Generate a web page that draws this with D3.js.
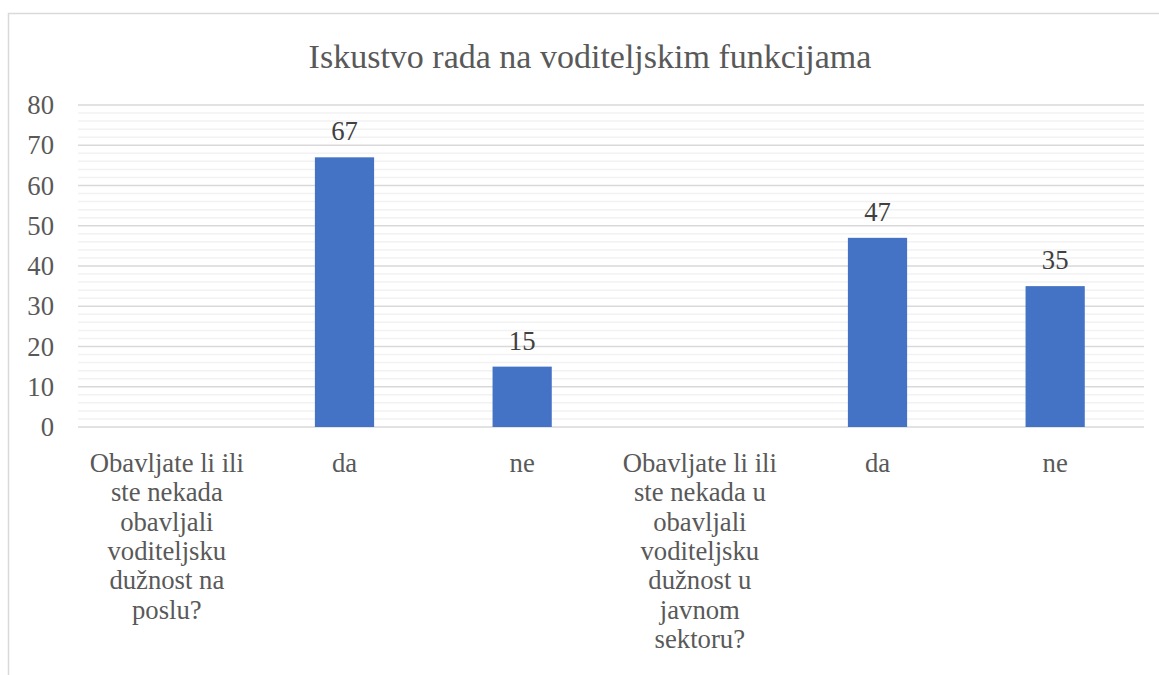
<!DOCTYPE html>
<html>
<head>
<meta charset="utf-8">
<script src="https://d3js.org/d3.v7.min.js"></script>
<style>
  body { margin: 0; }
  svg text, svg tspan { font-family: "Liberation Serif", "Times New Roman", Tinos, serif !important; }
</style>
</head>
<body>
<script>
// chart data
var categories = [
  ["Obavljate li ili", "ste nekada", "obavljali", "voditeljsku", "dužnost na", "poslu?"],
  ["da"],
  ["ne"],
  ["Obavljate li ili", "ste nekada u", "obavljali", "voditeljsku", "dužnost u", "javnom", "sektoru?"],
  ["da"],
  ["ne"]
];
var values = [null, 67, 15, null, 47, 35];
var yTicks = [0, 10, 20, 30, 40, 50, 60, 70, 80];
var title = "Iskustvo rada na voditeljskim funkcijama";

var width = 1159, height = 675;
var margin = {left: 78, right: 1159 - 1144, top: 105, bottom: 675 - 427};
var lineGap = 29.3;

var svg = d3.select("body").append("svg")
    .attr("width", width)
    .attr("height", height);

// outer chart frame (extends past the window on right/bottom)
svg.append("rect")
    .attr("x", 8.5).attr("y", 13.5)
    .attr("width", 1170).attr("height", 700)
    .attr("fill", "#fff")
    .attr("stroke", "#d9d9d9")
    .attr("stroke-width", 1.5);

var x = d3.scaleBand()
    .domain(d3.range(categories.length))
    .range([margin.left, width - margin.right]);

var y = d3.scaleLinear()
    .domain([0, 80])
    .range([height - margin.bottom, margin.top]);

// minor gridlines
svg.append("g")
  .selectAll("line")
  .data(d3.range(0, 81, 2).filter(function(d) { return d % 10 !== 0; }))
  .enter().append("line")
    .attr("x1", margin.left).attr("x2", width - margin.right)
    .attr("y1", function(d) { return y(d); })
    .attr("y2", function(d) { return y(d); })
    .attr("stroke", "#f2f2f2")
    .attr("stroke-width", 1.5);

// major gridlines
svg.append("g")
  .selectAll("line")
  .data(yTicks)
  .enter().append("line")
    .attr("x1", margin.left).attr("x2", width - margin.right)
    .attr("y1", function(d) { return y(d); })
    .attr("y2", function(d) { return y(d); })
    .attr("stroke", "#d9d9d9")
    .attr("stroke-width", 1.5);

function label(sel, size, color) {
  sel.style("font-family", "\"Liberation Serif\"", "important")
    .style("font-size", size + "px")
    .style("fill", color);
}

// y tick labels
svg.append("g")
  .selectAll("text")
  .data(yTicks)
  .enter().append("text")
    .attr("x", 54)
    .attr("y", function(d) { return y(d); })
    .attr("dy", "0.34em")
    .attr("text-anchor", "end")
    .call(label, 26.7, "#595959")
    .text(function(d) { return d; });

// bars
var barW = x.bandwidth() / 3;
var bars = values.map(function(v, i) { return {i: i, v: v}; }).filter(function(d) { return d.v !== null; });

svg.append("g")
  .selectAll("rect")
  .data(bars)
  .enter().append("rect")
    .attr("x", function(d) { return x(d.i) + x.bandwidth() / 2 - barW / 2; })
    .attr("y", function(d) { return y(d.v); })
    .attr("width", barW)
    .attr("height", function(d) { return y(0) - y(d.v); })
    .attr("fill", "#4472c4");

// data labels
svg.append("g")
  .selectAll("text")
  .data(bars)
  .enter().append("text")
    .attr("x", function(d) { return x(d.i) + x.bandwidth() / 2; })
    .attr("y", function(d) { return y(d.v) - 17; })
    .attr("text-anchor", "middle")
    .call(label, 26.7, "#404040")
    .text(function(d) { return d.v; });

// category labels
var cat = svg.append("g")
  .selectAll("text")
  .data(categories)
  .enter().append("text")
    .attr("text-anchor", "middle")
    .call(label, 26.7, "#595959")
    .attr("x", function(d, i) { return x(i) + x.bandwidth() / 2; })
    .attr("y", 472);

cat.selectAll("tspan")
  .data(function(d) { return d; })
  .enter().append("tspan")
    .attr("x", function() { return d3.select(this.parentNode).attr("x"); })
    .attr("dy", function(d, j) { return j === 0 ? 0 : lineGap; })
    .text(function(d) { return d; });

// title
svg.append("text")
    .attr("x", 590)
    .attr("y", 68)
    .attr("text-anchor", "middle")
    .call(label, 34, "#595959")
    .text(title);
</script>
</body>
</html>
